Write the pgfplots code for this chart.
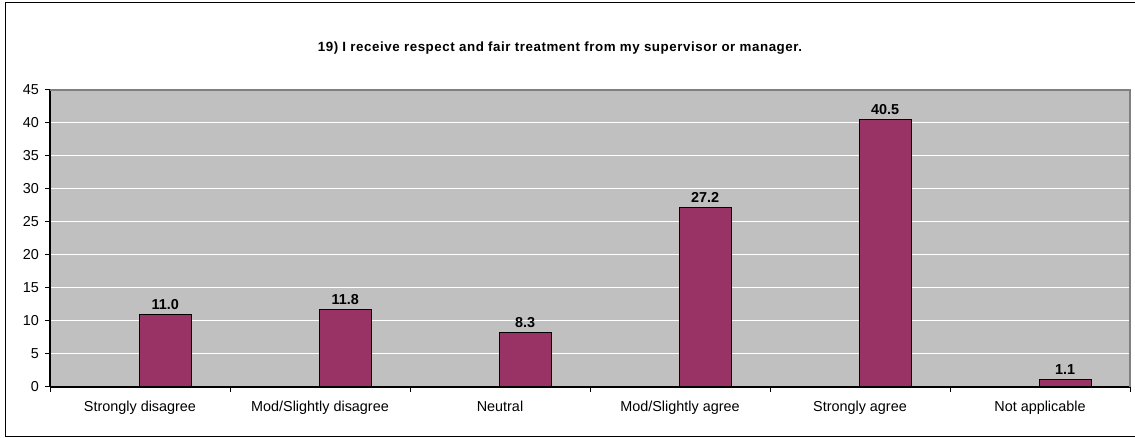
\documentclass[border=0pt]{standalone}
\usepackage{fontspec}
\setmainfont{Liberation Sans}
\usepackage{pgfplots}
\pgfplotsset{compat=1.18}
\definecolor{barfill}{HTML}{993366}
\definecolor{plotbg}{HTML}{C0C0C0}
\definecolor{framegray}{HTML}{808080}
\newfontfamily\titlefont[LetterSpace=4.2]{Liberation Sans}
\begin{document}
\begin{tikzpicture}[x=0.75pt,y=0.75pt]
% 1 px of the reference = 0.75pt
\path[use as bounding box] (0,0) rectangle (1135,438);
\draw[black, line width=0.9pt] (1140,435.5) -- (5.5,435.5) -- (5.5,1.5) -- (1140,1.5);
\node[font=\titlefont\bfseries\fontsize{10}{12}\selectfont] at (560,390) {19) I receive respect and fair treatment from my supervisor or manager.};
\begin{axis}[
    at={(37.5pt,38.25pt)}, anchor=south west,
    scale only axis,
    width=810pt, height=222.75pt,
    xmin=-0.5, xmax=5.5,
    ymin=0, ymax=45,
    ytick={0,5,...,45},
    xtick={0,...,5},
    xticklabels={Strongly disagree, Mod/Slightly disagree, Neutral, Mod/Slightly agree, Strongly agree, Not applicable},
    minor xtick={-0.5,0.5,...,5.5},
    every major x tick/.append style={draw=none},
    tick align=outside,
    major tick length=3.75pt, minor tick length=3.75pt,
    tick style={black, line width=0.75pt},
    axis lines*=left,
    axis line style={-, black, line width=0.9pt},
    axis background/.style={fill=plotbg},
    ymajorgrids,
    grid style={white, line width=0.75pt},
    tick label style={font=\fontsize{10.8}{12}\selectfont, text=black},
    /pgf/number format/assume math mode=true,
    xticklabel style={yshift=-3pt},
    yticklabel style={xshift=-1pt},
    ybar,
    bar width=0.289,
    nodes near coords={\pgfmathprintnumber[fixed,fixed zerofill,precision=1]{\pgfplotspointmeta}},
    nodes near coords style={font=\bfseries\fontsize{10.8}{12}\selectfont, text=black},
    clip=false,
]
\addplot[fill=barfill, draw=black, line width=0.75pt, bar shift=0.14] coordinates {
    (0, 11.0)
    (1, 11.8)
    (2, 8.3)
    (3, 27.2)
    (4, 40.5)
    (5, 1.1)
};
\draw[framegray, line width=0.9pt] (rel axis cs:0,1) -- (rel axis cs:1,1) -- (rel axis cs:1,0);
\end{axis}
\end{tikzpicture}
\end{document}
